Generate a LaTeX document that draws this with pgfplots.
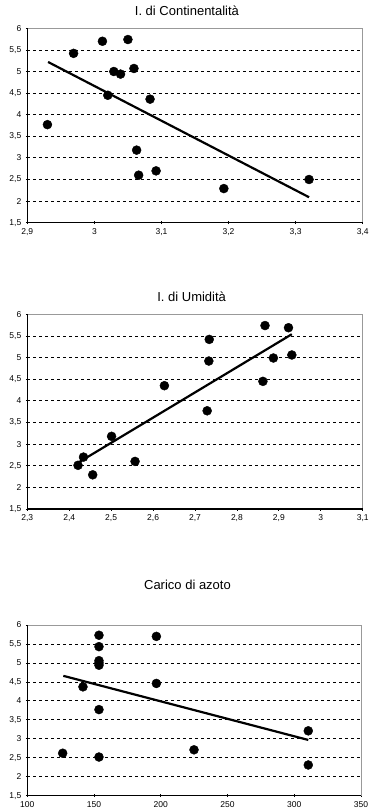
\documentclass[border=0pt]{standalone}
\usepackage{fontspec}
\setmainfont{Liberation Sans}
\usepackage{pgfplots}
\pgfplotsset{compat=1.18}
\begin{document}
\begin{tikzpicture}
\useasboundingbox (0pt,0pt) rectangle (370pt,-811pt);
\pgfplotsset{
  myax/.style={
    scale only axis,
    anchor=north west,
    width=335.4pt,
    ymin=1.5, ymax=6,
    ytick={1.5,2,2.5,3,3.5,4,4.5,5,5.5,6},
    tick pos=left,
    tick align=center,
    major tick length=3pt,
    tick style={black, line width=0.8pt},
    /pgf/number format/assume math mode=true,
    /pgf/number format/use comma,
    /pgf/number format/fixed,
    /pgf/number format/precision=2,
    ticklabel style={font=\fontsize{8.5}{10}\selectfont},
    yticklabel style={xshift=-1pt},
    xticklabel style={yshift=-1pt},
    ymajorgrids,
    major grid style={black, line width=0.8pt, dash pattern=on 3pt off 3pt},
    axis line style={draw=gray!80, line width=1pt},
    title style={font=\fontsize{13}{15}\selectfont, anchor=center},
    after end axis/.code={
      \draw[black, line width=1.2pt] (rel axis cs:0,1) -- (rel axis cs:0,0) -- (rel axis cs:1,0);
    },
  },
  dots/.style={only marks, mark=*, mark size=4.5pt, mark options={fill=black, draw=black}},
  trend/.style={black, line width=2.2pt, no marks},
}
% Chart 1
\begin{axis}[myax, at={(27.3pt,-28.3pt)}, height=194.4pt,
  xmin=2.9, xmax=3.4, xtick={2.9,3,3.1,3.2,3.3,3.4},
  title={I. di Continentalità},
  title style={at={(0.476,1)}, yshift=12pt}]
\addplot[dots] coordinates {
(2.930,3.77) (2.969,5.42) (3.012,5.70) (3.050,5.74) (3.029,5.00) (3.039,4.94)
(3.059,5.07) (3.020,4.45) (3.083,4.36) (3.063,3.18) (3.066,2.60) (3.092,2.70)
(3.193,2.29) (3.320,2.50)};
\addplot[trend] coordinates {(2.931,5.22) (3.320,2.09)};
\end{axis}
% Chart 2
\begin{axis}[myax, at={(27.3pt,-314.3pt)}, height=194.7pt,
  xmin=2.3, xmax=3.1, xtick={2.3,2.4,2.5,2.6,2.7,2.8,2.9,3,3.1},
  title={I. di Umidità},
  title style={at={(0.49,1)}, yshift=11.6pt}]
\addplot[dots] coordinates {
(2.421,2.51) (2.434,2.70) (2.456,2.29) (2.501,3.18) (2.557,2.60) (2.627,4.35)
(2.734,5.42) (2.733,4.92) (2.729,3.77) (2.867,5.74) (2.923,5.69) (2.887,4.99)
(2.931,5.06) (2.862,4.45)};
\addplot[trend] coordinates {(2.416,2.54) (2.931,5.54)};
\end{axis}
% Chart 3
\begin{axis}[myax, at={(27.3pt,-625pt)}, width=333.7pt, height=170.7pt,
  xmin=100, xmax=350, xtick={100,150,200,250,300,350},
  title={Carico di azoto},
  title style={at={(0.48,1)}, yshift=34pt}]
\addplot[dots] coordinates {
(126.5,2.62) (141.7,4.37) (153.7,5.73) (153.7,5.43) (153.7,5.06) (153.7,5.00)
(153.7,4.94) (153.7,3.77) (153.7,2.52) (196.7,5.70) (196.7,4.46) (224.9,2.71)
(310.5,3.21) (310.5,2.31)};
\addplot[trend] coordinates {(127,4.66) (310.5,2.97)};
\end{axis}
\end{tikzpicture}
\end{document}
